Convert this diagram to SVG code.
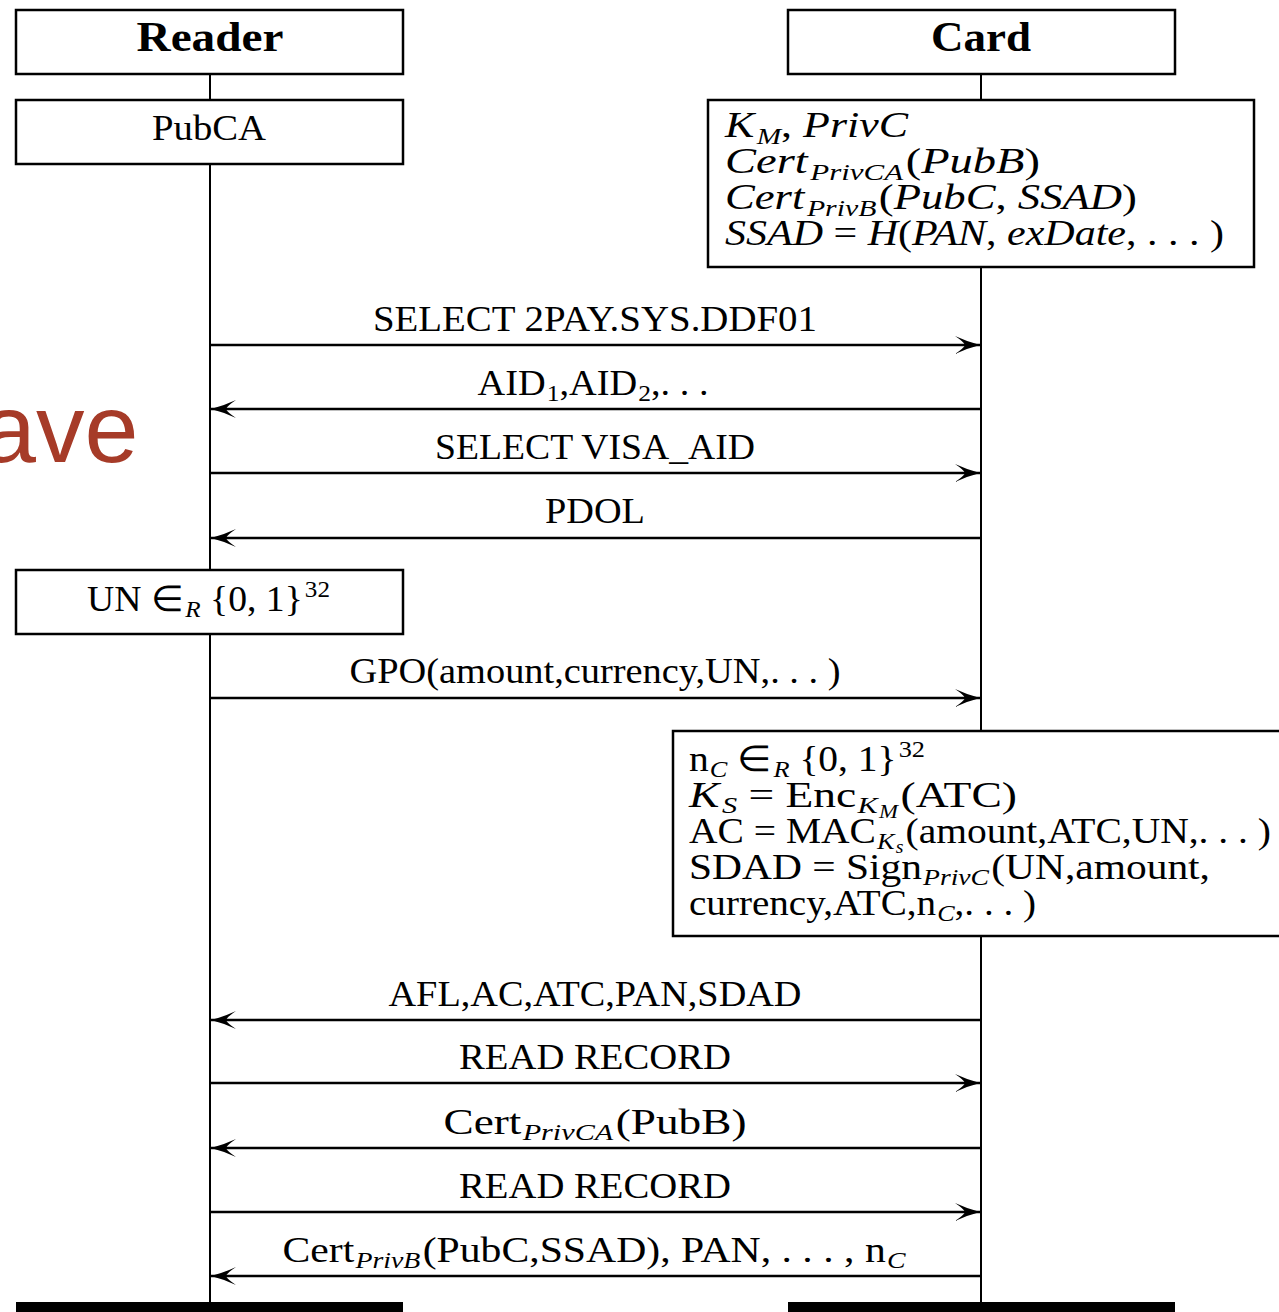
<svg xmlns="http://www.w3.org/2000/svg" width="1279" height="1312" viewBox="0 0 1279 1312">
<style>
.box{fill:#fff;stroke:#000;stroke-width:2.5}
.life{stroke:#000;stroke-width:2}
.msg{stroke:#000;stroke-width:2.5;fill:none;marker-end:url(#ah)}
text{font-family:"Liberation Serif","Times New Roman",serif;font-size:36px;fill:#000}
.lbl{text-anchor:middle}
.hd{font-weight:bold;font-size:42px;text-anchor:middle}
.it{font-style:italic}
.sb{font-size:24px}
.bar{fill:#000}
</style>
<defs>
<marker id="ah" markerWidth="30" markerHeight="22" viewBox="-27 -11 30 22" refX="0" refY="0" orient="auto" markerUnits="userSpaceOnUse">
<path d="M0,0 Q-12,-3 -25,-9 Q-16,-3 -15,0 Q-16,3 -25,9 Q-12,3 0,0Z" fill="#000"/>
</marker>
</defs>

<text x="-18" y="462" style="font-family:'Liberation Sans',Arial,sans-serif;font-size:97px;fill:#a63b28">ave</text>

<g id="lifelines">
<line class="life" x1="210" y1="74" x2="210" y2="1304"/>
<line class="life" x1="981" y1="74" x2="981" y2="1304"/>
</g>

<g id="reader">
<rect class="box" x="16" y="10" width="387" height="64"/>
<text class="hd" x="210" y="51" textLength="147" lengthAdjust="spacingAndGlyphs">Reader</text>
</g>
<g id="card">
<rect class="box" x="788" y="10" width="387" height="64"/>
<text class="hd" x="981" y="51" textLength="100" lengthAdjust="spacingAndGlyphs">Card</text>
</g>
<g id="pubca">
<rect class="box" x="16" y="100" width="387" height="64"/>
<text class="lbl" x="209" y="140" textLength="114" lengthAdjust="spacingAndGlyphs">PubCA</text>
</g>
<g id="cardkeys">
<rect class="box" x="708" y="100" width="546" height="167"/>
<text x="725" y="137" textLength="183" lengthAdjust="spacingAndGlyphs"><tspan class="it">K</tspan><tspan class="sb it" dx="2" dy="7">M</tspan><tspan dy="-7">, </tspan><tspan class="it">PrivC</tspan></text>
<text x="725" y="173" textLength="315" lengthAdjust="spacingAndGlyphs"><tspan class="it">Cert</tspan><tspan class="sb it" dx="2" dy="7">PrivCA</tspan><tspan dx="2" dy="-7">(</tspan><tspan class="it">PubB</tspan>)</text>
<text x="725" y="209" textLength="412" lengthAdjust="spacingAndGlyphs"><tspan class="it">Cert</tspan><tspan class="sb it" dx="2" dy="7">PrivB</tspan><tspan dx="2" dy="-7">(</tspan><tspan class="it">PubC</tspan>, <tspan class="it">SSAD</tspan>)</text>
<text x="725" y="245" textLength="499" lengthAdjust="spacingAndGlyphs"><tspan class="it">SSAD</tspan> = <tspan class="it">H</tspan>(<tspan class="it">PAN</tspan>, <tspan class="it">exDate</tspan>, . . . )</text>
</g>
<g id="un">
<rect class="box" x="16" y="570" width="387" height="64"/>
<text x="87" y="611" textLength="243" lengthAdjust="spacingAndGlyphs">UN ∈<tspan class="sb it" dx="2" dy="6">R</tspan><tspan dy="-6"> {0, 1}</tspan><tspan class="sb" dx="2" dy="-14">32</tspan></text>
</g>
<g id="compute">
<rect class="box" x="673" y="731" width="620" height="205"/>
<text x="689" y="771" textLength="236" lengthAdjust="spacingAndGlyphs">n<tspan class="sb it" dx="1" dy="6">C</tspan><tspan dy="-6"> ∈</tspan><tspan class="sb it" dx="2" dy="6">R</tspan><tspan dy="-6"> {0, 1}</tspan><tspan class="sb" dx="2" dy="-14">32</tspan></text>
<text x="689" y="807" textLength="328" lengthAdjust="spacingAndGlyphs"><tspan class="it">K</tspan><tspan class="sb it" dx="2" dy="6">S</tspan><tspan dy="-6"> = Enc</tspan><tspan class="sb it" dx="1" dy="6">K</tspan><tspan class="it" style="font-size:18px" dx="1" dy="5">M</tspan><tspan dx="2" dy="-11">(ATC)</tspan></text>
<text x="689" y="843" textLength="582" lengthAdjust="spacingAndGlyphs">AC = MAC<tspan class="sb it" dx="1" dy="6">K</tspan><tspan class="it" style="font-size:18px" dx="1" dy="4">s</tspan><tspan dx="2" dy="-10">(amount,ATC,UN,. . . )</tspan></text>
<text x="689" y="879" textLength="521" lengthAdjust="spacingAndGlyphs">SDAD = Sign<tspan class="sb it" dx="1" dy="6">PrivC</tspan><tspan dx="2" dy="-6">(UN,amount,</tspan></text>
<text x="689" y="915" textLength="347" lengthAdjust="spacingAndGlyphs">currency,ATC,n<tspan class="sb it" dx="1" dy="6">C</tspan><tspan dy="-6">,. . . )</tspan></text>
</g>

<g id="connectors">
<line class="msg" x1="210" y1="345" x2="980" y2="345"/>
<line class="msg" x1="981" y1="409" x2="211" y2="409"/>
<line class="msg" x1="210" y1="473" x2="980" y2="473"/>
<line class="msg" x1="981" y1="538" x2="211" y2="538"/>
<line class="msg" x1="210" y1="698" x2="980" y2="698"/>
<line class="msg" x1="981" y1="1020" x2="211" y2="1020"/>
<line class="msg" x1="210" y1="1083" x2="980" y2="1083"/>
<line class="msg" x1="981" y1="1148" x2="211" y2="1148"/>
<line class="msg" x1="210" y1="1212" x2="980" y2="1212"/>
<line class="msg" x1="981" y1="1276" x2="211" y2="1276"/>
<text class="lbl" x="595" y="331" textLength="444" lengthAdjust="spacingAndGlyphs">SELECT 2PAY.SYS.DDF01</text>
<text class="lbl" x="593" y="395" textLength="231" lengthAdjust="spacingAndGlyphs">AID<tspan class="sb" dx="1" dy="6">1</tspan><tspan dy="-6">,AID</tspan><tspan class="sb" dx="1" dy="6">2</tspan><tspan dy="-6">,. . .</tspan></text>
<text class="lbl" x="595" y="459" textLength="320" lengthAdjust="spacingAndGlyphs">SELECT VISA_AID</text>
<text class="lbl" x="595" y="523" textLength="100" lengthAdjust="spacingAndGlyphs">PDOL</text>
<text class="lbl" x="595" y="683" textLength="491" lengthAdjust="spacingAndGlyphs">GPO(amount,currency,UN,. . . )</text>
<text class="lbl" x="595" y="1006" textLength="413" lengthAdjust="spacingAndGlyphs">AFL,AC,ATC,PAN,SDAD</text>
<text class="lbl" x="595" y="1069" textLength="272" lengthAdjust="spacingAndGlyphs">READ RECORD</text>
<text class="lbl" x="595" y="1134" textLength="303" lengthAdjust="spacingAndGlyphs">Cert<tspan class="sb it" dx="1" dy="6">PrivCA</tspan><tspan dx="2" dy="-6">(PubB)</tspan></text>
<text class="lbl" x="595" y="1198" textLength="272" lengthAdjust="spacingAndGlyphs">READ RECORD</text>
<text class="lbl" x="594" y="1262" textLength="623" lengthAdjust="spacingAndGlyphs">Cert<tspan class="sb it" dx="1" dy="6">PrivB</tspan><tspan dx="2" dy="-6">(PubC,SSAD), PAN, . . . , n</tspan><tspan class="sb it" dx="1" dy="6">C</tspan></text>
</g>

<g id="bottom">
<rect class="bar" x="16" y="1302" width="387" height="12"/>
<rect class="bar" x="788" y="1302" width="387" height="12"/>
</g>
</svg>
